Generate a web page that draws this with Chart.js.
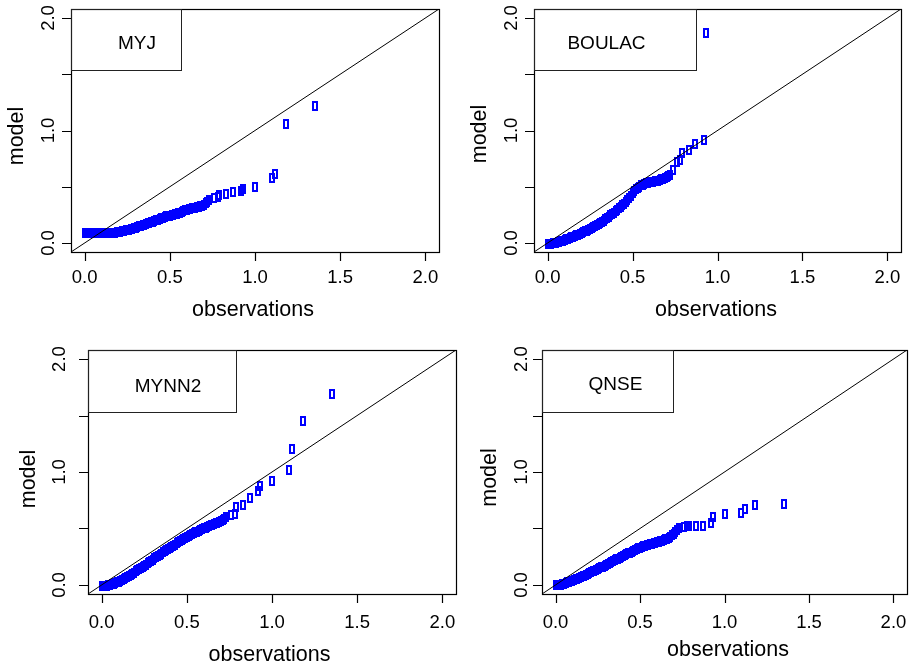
<!DOCTYPE html>
<html>
<head>
<meta charset="utf-8">
<title>Q-Q plots</title>
<script src="https://cdn.jsdelivr.net/npm/chart.js@4.4.1/dist/chart.umd.min.js"></script>
<style>
  body { margin: 0; background: #fff; }
  #wrap { position: relative; width: 913px; height: 665px; }
  #wrap canvas { position: absolute; left: 0; top: 0; }
</style>
</head>
<body>
<div id="wrap">
  <canvas id="c1" width="913" height="665"></canvas>
  <canvas id="c2" width="913" height="665"></canvas>
  <canvas id="c3" width="913" height="665"></canvas>
  <canvas id="c4" width="913" height="665"></canvas>
</div>
<script>
// sorted observations (shared by MYJ, MYNN2 and QNSE)
const obsMain = [
  0.00, 0.01, 0.02, 0.03, 0.04, 0.05, 0.06, 0.07, 0.08, 0.09,
  0.10, 0.11, 0.12, 0.13, 0.14, 0.15, 0.16, 0.17, 0.18, 0.19,
  0.20, 0.21, 0.22, 0.23, 0.24, 0.25, 0.26, 0.27, 0.28, 0.29,
  0.30, 0.31, 0.32, 0.33, 0.34, 0.35, 0.36, 0.37, 0.38, 0.39,
  0.40, 0.41, 0.42, 0.43, 0.44, 0.45, 0.46, 0.47, 0.48, 0.49,
  0.50, 0.51, 0.52, 0.53, 0.54, 0.55, 0.56, 0.57, 0.58, 0.59,
  0.60, 0.61, 0.62, 0.63, 0.64, 0.65, 0.66, 0.67, 0.68, 0.69,
  0.70, 0.71, 0.72,
  0.73, 0.76, 0.78, 0.79, 0.83, 0.87, 0.92, 0.93, 1.00, 1.10, 1.12, 1.18, 1.35
];

// sorted observations for the BOULAC run
const obsBoulac = [
  0.00, 0.01, 0.02, 0.03, 0.04, 0.05, 0.06, 0.07, 0.08, 0.09,
  0.10, 0.11, 0.12, 0.13, 0.14, 0.15, 0.16, 0.17, 0.18, 0.19,
  0.20, 0.21, 0.22, 0.23, 0.24, 0.25, 0.26, 0.27, 0.28, 0.29,
  0.30, 0.31, 0.32, 0.33, 0.34, 0.35, 0.36, 0.37, 0.38, 0.39,
  0.40, 0.41, 0.42, 0.43, 0.44, 0.45, 0.46, 0.47, 0.48, 0.49,
  0.50, 0.51, 0.52, 0.53, 0.54, 0.55, 0.56, 0.57, 0.58, 0.59,
  0.60, 0.61, 0.62, 0.63, 0.64, 0.65, 0.66, 0.67, 0.68, 0.69,
  0.70, 0.71, 0.72,
  0.74, 0.76, 0.78, 0.79, 0.83, 0.87, 0.92, 0.93
];

// sorted model values
const modelMYJ = [
  0.09, 0.09, 0.09, 0.09, 0.09, 0.09, 0.09, 0.09, 0.09, 0.09,
  0.09, 0.09, 0.09, 0.09, 0.09, 0.09, 0.09, 0.09, 0.092, 0.095,
  0.098, 0.101, 0.105, 0.108, 0.112, 0.116, 0.120, 0.124, 0.128, 0.132,
  0.137, 0.142, 0.147, 0.152, 0.157, 0.162, 0.168, 0.174, 0.180, 0.185,
  0.190, 0.196, 0.202, 0.208, 0.214, 0.220, 0.225, 0.231, 0.236, 0.240,
  0.244, 0.247, 0.250, 0.254, 0.258, 0.264, 0.270, 0.277, 0.283, 0.289,
  0.295, 0.300, 0.305, 0.309, 0.312, 0.315, 0.318, 0.322, 0.326, 0.332,
  0.340, 0.352, 0.368,
  0.38, 0.40, 0.41, 0.43, 0.44, 0.45, 0.46, 0.48, 0.50, 0.58, 0.61, 1.06, 1.22
];

const modelBOULAC = [
  -0.005, -0.005, -0.005, -0.003, 0.0, 0.003, 0.007, 0.011, 0.016, 0.021,
  0.027, 0.033, 0.039, 0.045, 0.051, 0.057, 0.063, 0.069, 0.075, 0.082,
  0.089, 0.096, 0.103, 0.110, 0.117, 0.124, 0.132, 0.140, 0.148, 0.157,
  0.167, 0.177, 0.188, 0.199, 0.210, 0.222, 0.234, 0.246, 0.258, 0.270,
  0.283, 0.296, 0.309, 0.322, 0.336, 0.351, 0.367, 0.384, 0.402, 0.422,
  0.442, 0.460, 0.476, 0.490, 0.502, 0.512, 0.520, 0.526, 0.531, 0.535,
  0.538, 0.541, 0.544, 0.547, 0.551, 0.555, 0.560, 0.565, 0.571, 0.577,
  0.584, 0.592, 0.602,
  0.65, 0.72, 0.74, 0.80, 0.83, 0.88, 0.92, 1.87
];

const modelMYNN2 = [
  -0.01, -0.01, -0.01, -0.005, 0.0, 0.0, 0.005, 0.01, 0.015, 0.022,
  0.030, 0.038, 0.046, 0.054, 0.062, 0.070, 0.080, 0.090, 0.100, 0.110,
  0.120, 0.130, 0.140, 0.150, 0.160, 0.170, 0.180, 0.192, 0.203, 0.214,
  0.225, 0.236, 0.247, 0.258, 0.268, 0.278, 0.288, 0.298, 0.308, 0.318,
  0.328, 0.338, 0.348, 0.358, 0.368, 0.378, 0.388, 0.398, 0.408, 0.418,
  0.427, 0.435, 0.442, 0.450, 0.457, 0.465, 0.472, 0.478, 0.485, 0.492,
  0.500, 0.508, 0.515, 0.522, 0.528, 0.534, 0.540, 0.546, 0.552, 0.558,
  0.565, 0.575, 0.588,
  0.60, 0.62, 0.63, 0.69, 0.71, 0.77, 0.83, 0.88, 0.92, 1.02, 1.20, 1.45, 1.69
];

const modelQNSE = [
  0.0, 0.0, 0.0, 0.003, 0.008, 0.012, 0.017, 0.022, 0.027, 0.032,
  0.038, 0.044, 0.050, 0.056, 0.062, 0.068, 0.075, 0.082, 0.089, 0.096,
  0.104, 0.112, 0.120, 0.127, 0.134, 0.141, 0.148, 0.156, 0.163, 0.170,
  0.178, 0.186, 0.194, 0.202, 0.210, 0.218, 0.226, 0.234, 0.242, 0.250,
  0.258, 0.265, 0.272, 0.279, 0.286, 0.293, 0.300, 0.308, 0.316, 0.324,
  0.331, 0.338, 0.344, 0.349, 0.354, 0.358, 0.362, 0.366, 0.370, 0.374,
  0.378, 0.382, 0.386, 0.392, 0.398, 0.404, 0.410, 0.418, 0.428, 0.440,
  0.455, 0.470, 0.488,
  0.50, 0.51, 0.52, 0.52, 0.52, 0.52, 0.55, 0.60, 0.63, 0.64, 0.67, 0.71, 0.72
];

const tickValues = [0, 0.5, 1, 1.5, 2];
const xTickLabels = ['0.0', '0.5', '1.0', '1.5', '2.0'];
const yTickLabels = ['0.0', '', '1.0', '', '2.0'];
const axisMin = -0.08, axisMax = 2.08;

const FONT = '"Liberation Sans", Arial, Helvetica, sans-serif';

// open blue rectangle (pch=0 stretched by the device), drawn pixel-exact
function makeMarker() {
  const c = document.createElement('canvas');
  c.width = 6; c.height = 10;
  const g = c.getContext('2d');
  g.fillStyle = '#0000ff';
  g.fillRect(0, 0, 6, 10);
  g.clearRect(2, 2, 2, 6);
  return c;
}
const marker = makeMarker();

// keep the markers crisp
const crispPoints = {
  id: 'crispPoints',
  beforeDatasetsDraw(chart) { chart.ctx.imageSmoothingEnabled = false; },
  afterDatasetsDraw(chart) { chart.ctx.imageSmoothingEnabled = true; }
};

// box, ticks, labels and legend box in base-graphics style
const rAxes = {
  id: 'rAxes',
  afterDraw(chart, args, o) {
    const { ctx, chartArea: a, scales: { x, y } } = chart;
    ctx.save();
    ctx.strokeStyle = '#000';
    ctx.fillStyle = '#000';
    ctx.lineWidth = 1.2;

    ctx.strokeRect(a.left + 0.5, a.top + 0.5, a.right - a.left, a.bottom - a.top);

    ctx.beginPath();
    tickValues.forEach(v => {
      const px = Math.round(x.getPixelForValue(v)) + 0.5;
      ctx.moveTo(px, a.bottom);
      ctx.lineTo(px, a.bottom + 9);
      const py = Math.round(y.getPixelForValue(v)) + 0.5;
      ctx.moveTo(a.left, py);
      ctx.lineTo(a.left - 9, py);
    });
    ctx.stroke();

    ctx.font = '18.5px ' + FONT;
    ctx.textAlign = 'center';
    ctx.textBaseline = 'alphabetic';
    tickValues.forEach((v, i) => {
      ctx.fillText(xTickLabels[i], x.getPixelForValue(v), o.xLabY + 6.6);
    });
    tickValues.forEach((v, i) => {
      if (!yTickLabels[i]) return;
      ctx.save();
      ctx.translate(o.yLabX, y.getPixelForValue(v));
      ctx.rotate(-Math.PI / 2);
      ctx.fillText(yTickLabels[i], 0, 6.6);
      ctx.restore();
    });

    ctx.font = '21.5px ' + FONT;
    ctx.fillText('observations', o.xTitle[0], o.xTitle[1] + 7.8);
    ctx.save();
    ctx.translate(o.yTitle[0], o.yTitle[1]);
    ctx.rotate(-Math.PI / 2);
    ctx.fillText('model', 0, 7.8);
    ctx.restore();

    // legend box in the top left corner
    ctx.strokeStyle = '#222';
    ctx.lineWidth = 1;
    ctx.strokeRect(a.left + 0.5, a.top + 0.5, o.legend[0] - a.left, o.legend[1] - a.top);
    ctx.font = '19px ' + FONT;
    ctx.fillText(o.name, o.legendText[0], o.legendText[1] + 6.8);
    ctx.restore();
  }
};

const panels = [
  { id: 'c1', name: 'MYJ', obs: obsMain, model: modelMYJ,
    pad: { left: 71, top: 9, right: 474, bottom: 413 },
    xLabY: 276, yLabX: 47, xTitle: [253, 308], yTitle: [15.5, 136],
    legend: [181, 70], legendText: [137, 42] },
  { id: 'c2', name: 'BOULAC', obs: obsBoulac, model: modelBOULAC,
    pad: { left: 534, top: 9, right: 12, bottom: 413 },
    xLabY: 276, yLabX: 510, xTitle: [716, 308], yTitle: [478.5, 134],
    legend: [696, 70], legendText: [606.5, 42] },
  { id: 'c3', name: 'MYNN2', obs: obsMain, model: modelMYNN2,
    pad: { left: 88, top: 350, right: 457, bottom: 71 },
    xLabY: 621.5, yLabX: 58.5, xTitle: [269.5, 653], yTitle: [27, 479],
    legend: [236, 412], legendText: [168, 385] },
  { id: 'c4', name: 'QNSE', obs: obsMain, model: modelQNSE,
    pad: { left: 542, top: 350, right: 4, bottom: 71 },
    xLabY: 621.5, yLabX: 520, xTitle: [728, 648], yTitle: [488.5, 477.5],
    legend: [673, 412], legendText: [615.5, 383.5] }
];

panels.forEach(p => {
  const points = p.obs.map((v, i) => ({ x: v, y: p.model[i] }));
  new Chart(document.getElementById(p.id), {
    type: 'scatter',
    data: {
      datasets: [
        {
          // 1:1 reference line across the whole plot region
          data: [{ x: axisMin, y: axisMin }, { x: axisMax, y: axisMax }],
          showLine: true,
          borderColor: '#000',
          borderWidth: 1,
          pointRadius: 0
        },
        {
          data: points,
          pointStyle: marker,
          pointRadius: 5
        }
      ]
    },
    options: {
      responsive: false,
      animation: false,
      events: [],
      layout: { padding: p.pad },
      plugins: {
        legend: { display: false },
        tooltip: { enabled: false },
        rAxes: p
      },
      scales: {
        x: { type: 'linear', min: axisMin, max: axisMax, display: false },
        y: { type: 'linear', min: axisMin, max: axisMax, display: false }
      }
    },
    plugins: [crispPoints, rAxes]
  });
});
</script>
</body>
</html>
